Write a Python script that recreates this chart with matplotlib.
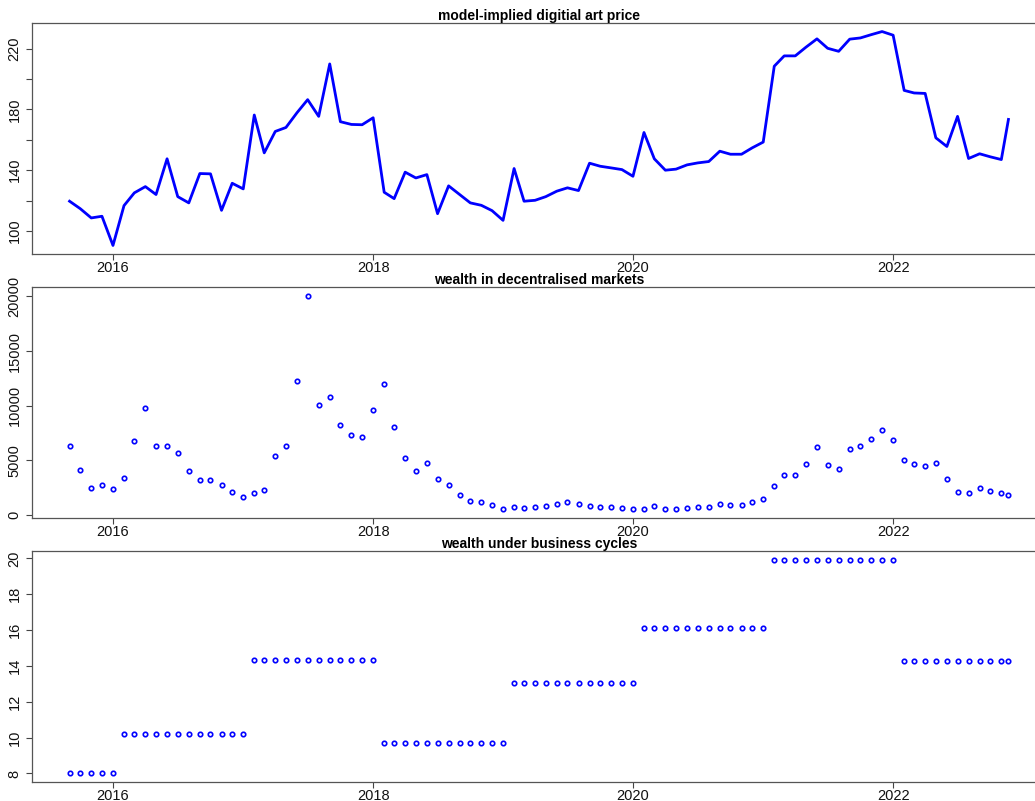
import numpy as np
import pandas as pd
import matplotlib
matplotlib.use("Agg")
import matplotlib.pyplot as plt
import matplotlib.dates as mdates

plt.rcParams['font.family'] = ['Liberation Sans', 'DejaVu Sans']

# monthly observations, Sep 2015 .. Oct 2022, plus a last partial month
dates = list(pd.date_range('2015-09-01', periods=87, freq='MS')) + [pd.Timestamp('2022-11-21')]

art_price = [
    119.6, 114.7, 108.6, 109.7, 90.5, 116.7, 125.1, 129.2, 124.0, 147.5,
    122.6, 118.5, 137.8, 137.6, 113.6, 131.4, 127.7, 176.3, 151.4, 165.5,
    168.1, 177.8, 186.4, 175.4, 209.9, 171.9, 170.1, 169.9, 174.5, 125.5,
    121.3, 138.7, 134.9, 137.1, 111.4, 129.7, 124.0, 118.5, 116.9, 113.4,
    107.0, 141.1, 119.6, 120.2, 122.6, 126.2, 128.4, 126.6, 144.6, 142.6,
    141.5, 140.4, 136.0, 164.8, 147.5, 140.0, 140.7, 143.5, 144.8, 145.7,
    152.5, 150.5, 150.5, 154.7, 158.5, 208.4, 215.2, 215.2, 220.9, 226.4,
    220.2, 218.2, 226.2, 227.0, 229.2, 231.2, 228.8, 192.5, 190.8, 190.5,
    161.3, 155.6, 175.4, 147.7, 150.8, 148.8, 147.0, 173.4,
]

defi_wealth = [
    6259, 4152, 2473, 2778, 2381, 3419, 6778, 9800, 6259, 6259,
    5709, 4000, 3236, 3175, 2687, 2076, 1618, 1954, 2229, 5434,
    6350, 12303, 20058, 10105, 10747, 8182, 7297, 7114, 9617, 11968,
    8060, 5251, 4030, 4702, 3267, 2748, 1801, 1282, 1160, 885,
    580, 672, 641, 672, 794, 1008, 1160, 1008, 794, 733,
    672, 641, 519, 550, 794, 550, 580, 641, 672, 733,
    1038, 946, 946, 1160, 1435, 2656, 3633, 3633, 4671, 6167,
    4580, 4213, 6075, 6350, 6991, 7785, 6869, 5007, 4610, 4518,
    4763, 3297, 2076, 2015, 2473, 2168, 1954, 1862,
]

cycle_levels = [8.0, 10.22, 14.36, 9.72, 13.06, 16.10, 19.94, 14.27]
cycle_lengths = [5, 12, 12, 12, 12, 12, 12, 11]
cycle_wealth = np.repeat(cycle_levels, cycle_lengths)

titles = ['model-implied digitial art price',
          'wealth in decentralised markets',
          'wealth under business cycles']
year_ticks = [pd.Timestamp(f'{y}-01-01') for y in (2016, 2018, 2020, 2022)]

W, H = 1035, 801
fig = plt.figure(figsize=(W / 100, H / 100), dpi=100)

# panel boxes in pixels (top, bottom); right edge runs past the canvas
boxes = [(23, 254), (287.3, 517.7), (551, 782)]
left_px, right_px = 32, 1046

axes = []
for top, bot in boxes:
    ax = fig.add_axes([left_px / W, (H - bot) / H, (right_px - left_px) / W, (bot - top) / H])
    axes.append(ax)

blue = '#0000ff'
axes[0].plot(dates, art_price, color=blue, lw=2.0)
axes[1].plot(dates, defi_wealth, 'o', ms=3.2, mfc='white', mec=blue, mew=1.2)
axes[2].plot(dates, cycle_wealth, 'o', ms=3.2, mfc='white', mec=blue, mew=1.2)

yticks = [[100, 120, 140, 160, 180, 200, 220],
          [0, 5000, 10000, 15000, 20000],
          [8, 10, 12, 14, 16, 18, 20]]
ylabels = [['100', '', '140', '', '180', '', '220'],
           ['0', '5000', '10000', '15000', '20000'],
           ['8', '10', '12', '14', '16', '18', '20']]

for ax, title, yt, yl in zip(axes, titles, yticks, ylabels):
    ax.margins(x=0.04, y=0.04)
    ax.set_title(title, fontsize=10, fontweight='bold', pad=2)
    ax.set_xticks(year_ticks)
    ax.xaxis.set_major_formatter(mdates.DateFormatter('%Y'))
    ax.set_yticks(yt)
    ax.set_yticklabels(yl, rotation=90, va='center')
    ax.tick_params(axis='both', direction='out', length=4, width=0.8,
                   color='#444444', labelsize=10.5, labelcolor='#111111')
    ax.tick_params(axis='x', pad=1)
    ax.tick_params(axis='y', pad=3.5)
    for s in ax.spines.values():
        s.set_color('#555555')
        s.set_linewidth(0.9)

fig.savefig('out.png', dpi=100)
